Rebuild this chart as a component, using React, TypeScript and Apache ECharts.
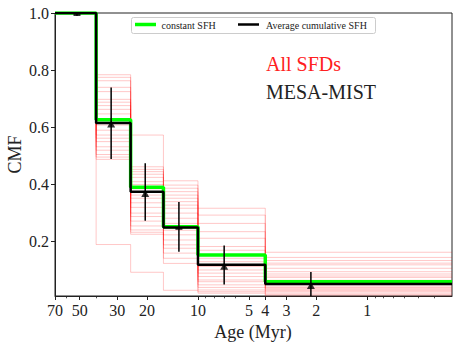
import React, { useEffect, useRef } from "react";
import * as echarts from "echarts";

// Bin edges in age (Myr), from old (left) to young (right)
const binEdgesAge = [70, 40, 25, 16, 10, 4, 0.315];

// CMF per bin (bin 1 = 70-40 Myr ... bin 6 = 4-0.315 Myr)
const constantSFH = [1.0, 0.627, 0.39, 0.252, 0.153, 0.06];
const averageSFH = [1.0, 0.615, 0.375, 0.25, 0.119, 0.052];

// Individual SFD step functions (one entry per line, per bin); bin 1 is 1.0 for all
const sfdBin2 = [0.784, 0.775, 0.763, 0.74, 0.725, 0.698, 0.688, 0.676, 0.663, 0.647, 0.63, 0.608, 0.59, 0.573, 0.562, 0.55, 0.532, 0.52, 0.505, 0.496, 0.488, 0.19];
const sfdBin3 = [0.573, 0.462, 0.453, 0.445, 0.436, 0.425, 0.41, 0.4, 0.385, 0.375, 0.363, 0.352, 0.336, 0.32, 0.3, 0.288, 0.272, 0.255, 0.241, 0.233, 0.226, 0.093];
const sfdBin4 = [0.413, 0.398, 0.387, 0.375, 0.363, 0.352, 0.34, 0.328, 0.317, 0.3, 0.282, 0.264, 0.25, 0.24, 0.224, 0.206, 0.189, 0.177, 0.16, 0.142, 0.124, 0.03];
const sfdBin5 = [0.317, 0.293, 0.264, 0.235, 0.212, 0.183, 0.17, 0.155, 0.142, 0.13, 0.12, 0.113, 0.101, 0.09, 0.078, 0.066, 0.06, 0.049, 0.04, 0.031, 0.025, 0.02];
const sfdBin6 = [0.163, 0.145, 0.134, 0.125, 0.119, 0.107, 0.095, 0.087, 0.08, 0.075, 0.065, 0.058, 0.05, 0.045, 0.04, 0.037, 0.033, 0.029, 0.025, 0.02, 0.015, 0.01];

// Error bars (MESA-MIST estimates)
const errAge = [51.9, 32.6, 20.5, 12.96, 7.0, 2.15];
const errValue = [0.993, 0.612, 0.369, 0.245, 0.114, 0.047];
const errLow = [0.99, 0.489, 0.273, 0.165, 0.05, 0.01];
const errHigh = [1.0, 0.739, 0.474, 0.339, 0.187, 0.094];
const errMarker = ["rect", "triangle", "triangle", "rect", "triangle", "triangle"];

// Axis ticks
const xMajorTicks = [70, 50, 30, 20, 10, 5, 4, 3, 2, 1];
const xMinorTicks = [60, 40, 9, 8, 7, 6, 0.9, 0.8, 0.7, 0.6, 0.5, 0.4];
const yTicks = [0.2, 0.4, 0.6, 0.8, 1.0];

const lg = (v: number) => Math.log10(v);
const FONT = "'Liberation Serif', serif";

function stepPoints(values: number[]) {
  const pts: number[][] = [];
  values.forEach((v, i) => {
    pts.push([lg(binEdgesAge[i]), v]);
    pts.push([lg(binEdgesAge[i + 1]), v]);
  });
  return pts;
}

export default function App() {
  const ref = useRef<HTMLDivElement>(null);

  useEffect(() => {
    if (!ref.current) return;
    document.body.style.margin = "0";
    const chart = echarts.init(ref.current, null, { renderer: "svg" });

    const xMin = lg(binEdgesAge[binEdgesAge.length - 1]);
    const xMax = lg(binEdgesAge[0]);

    const redSeries = sfdBin2.map((_, i) => ({
      type: "line",
      data: stepPoints([1.0, sfdBin2[i], sfdBin3[i], sfdBin4[i], sfdBin5[i], sfdBin6[i]]),
      showSymbol: false,
      symbol: "none",
      lineStyle: { color: "rgba(255,0,0,0.22)", width: 1 },
      z: 1,
      silent: true,
    }));

    const errData = errAge.map((a, i) => [lg(a), errLow[i], errHigh[i]]);
    const markerData = errAge.map((a, i) => ({
      value: [lg(a), errValue[i]],
      symbol: errMarker[i],
      symbolSize: errMarker[i] === "rect" ? [7, 2] : [8, 7],
    }));

    const option: any = {
      animation: false,
      grid: {
        left: 55,
        right: 11,
        top: 13,
        bottom: 52,
        show: true,
        borderColor: "#222",
        borderWidth: 1,
      },
      xAxis: [
        {
          type: "value",
          min: xMin,
          max: xMax,
          inverse: true,
          axisLine: { show: true, onZero: false, lineStyle: { color: "#222", width: 1 } },
          splitLine: { show: false },
          axisTick: {
            show: true,
            inside: false,
            length: 4,
            customValues: xMajorTicks.map(lg),
            lineStyle: { color: "#222", width: 1 },
          },
          axisLabel: {
            customValues: xMajorTicks.map(lg),
            formatter: (v: number) => String(Math.round(Math.pow(10, v))),
            fontFamily: FONT,
            fontSize: 16,
            color: "#222",
            margin: 6,
          },
        },
        {
          type: "value",
          min: xMin,
          max: xMax,
          inverse: true,
          position: "bottom",
          axisLine: { show: false, onZero: false },
          splitLine: { show: false },
          axisTick: {
            show: true,
            inside: false,
            length: 2.3,
            customValues: xMinorTicks.map(lg),
            lineStyle: { color: "#222", width: 0.8 },
          },
          axisLabel: { show: false },
        },
      ],
      yAxis: {
        type: "value",
        min: 0.01,
        max: 1.0,
        axisLine: { show: true, onZero: false, lineStyle: { color: "#222", width: 1 } },
        splitLine: { show: false },
        axisTick: {
          show: true,
          inside: false,
          length: 4,
          customValues: yTicks,
          lineStyle: { color: "#222", width: 1 },
        },
        axisLabel: {
          customValues: yTicks,
          formatter: (v: number) => v.toFixed(1),
          fontFamily: FONT,
          fontSize: 16,
          color: "#222",
          margin: 6,
        },
      },
      series: [
        ...redSeries,
        {
          type: "line",
          name: "constant SFH",
          data: stepPoints(constantSFH),
          showSymbol: false,
          symbol: "none",
          lineStyle: { color: "#00ff00", width: 3.5 },
          z: 3,
        },
        {
          type: "line",
          name: "Average cumulative SFH",
          data: stepPoints(averageSFH),
          showSymbol: false,
          symbol: "none",
          lineStyle: { color: "#000000", width: 2.5 },
          z: 4,
        },
        {
          type: "custom",
          data: errData,
          z: 5,
          clip: true,
          renderItem: (params: any, api: any) => {
            const x = api.value(0);
            const p1 = api.coord([x, api.value(1)]);
            const p2 = api.coord([x, api.value(2)]);
            return {
              type: "line",
              shape: { x1: p1[0], y1: p1[1], x2: p2[0], y2: p2[1] },
              style: { stroke: "#000", lineWidth: 1.5 },
            };
          },
        },
        {
          type: "scatter",
          data: markerData,
          itemStyle: { color: "#000" },
          z: 6,
        },
      ],
      graphic: [
        {
          type: "rect",
          shape: { x: 131.5, y: 17.5, width: 244, height: 16, r: 2 },
          style: { fill: "rgba(255,255,255,0.85)", stroke: "#cccccc", lineWidth: 1 },
          z: 10,
        },
        {
          type: "line",
          shape: { x1: 135, y1: 24.5, x2: 156, y2: 24.5 },
          style: { stroke: "#00ff00", lineWidth: 3.5 },
          z: 11,
        },
        {
          type: "text",
          x: 161.5,
          y: 25.5,
          style: {
            text: "constant SFH",
            fontFamily: FONT,
            fontSize: 10,
            fill: "#222",
            textVerticalAlign: "middle",
          },
          z: 11,
        },
        {
          type: "line",
          shape: { x1: 238, y1: 24.5, x2: 259, y2: 24.5 },
          style: { stroke: "#000", lineWidth: 2.5 },
          z: 11,
        },
        {
          type: "text",
          x: 266,
          y: 25.5,
          style: {
            text: "Average cumulative SFH",
            fontFamily: FONT,
            fontSize: 10,
            fill: "#222",
            textVerticalAlign: "middle",
          },
          z: 11,
        },
        {
          type: "text",
          x: 266,
          y: 63.5,
          style: {
            text: "All SFDs",
            fontFamily: FONT,
            fontSize: 20,
            fill: "#ff2020",
            textVerticalAlign: "middle",
          },
          z: 11,
        },
        {
          type: "text",
          x: 266,
          y: 91.5,
          style: {
            text: "MESA-MIST",
            fontFamily: FONT,
            fontSize: 20,
            fill: "#222",
            textVerticalAlign: "middle",
          },
          z: 11,
        },
        {
          type: "text",
          x: 253,
          y: 331.5,
          style: {
            text: "Age (Myr)",
            fontFamily: FONT,
            fontSize: 18,
            fill: "#222",
            textAlign: "center",
            textVerticalAlign: "middle",
          },
        },
        {
          type: "text",
          x: 15,
          y: 154.5,
          rotation: Math.PI / 2,
          style: {
            text: "CMF",
            fontFamily: FONT,
            fontSize: 18,
            fill: "#222",
            textAlign: "center",
            textVerticalAlign: "middle",
          },
        },
      ],
    };

    chart.setOption(option);
    return () => chart.dispose();
  }, []);

  return <div ref={ref} style={{ width: 463, height: 348 }} />;
}
